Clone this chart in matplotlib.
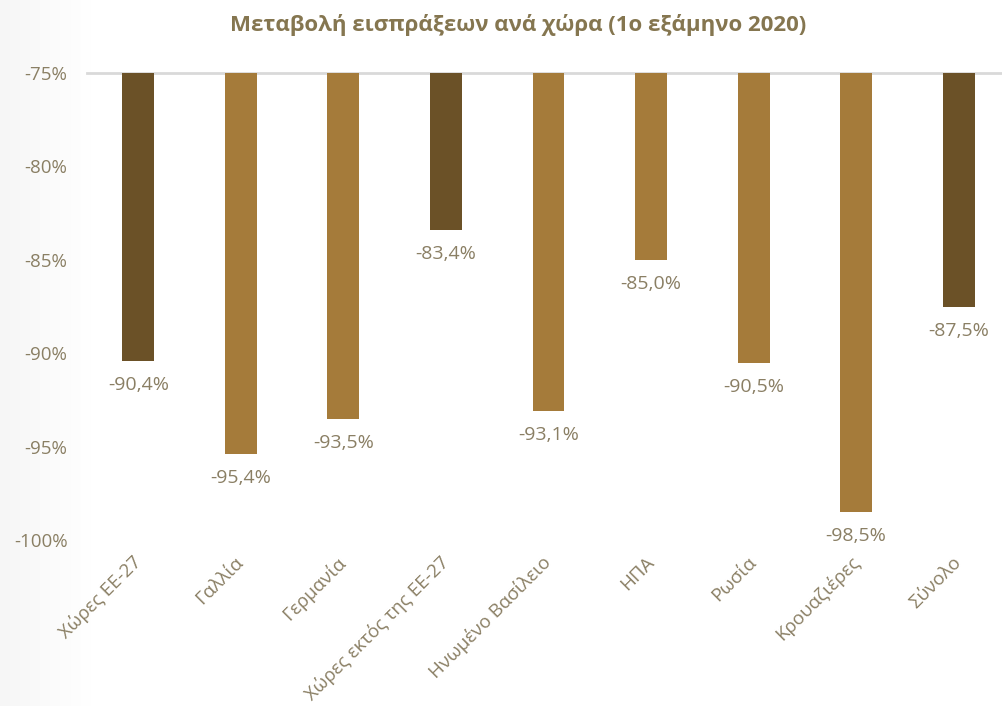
import matplotlib
matplotlib.use("Agg")
import matplotlib.pyplot as plt
import numpy as np
from matplotlib.ticker import FixedLocator

plt.rcParams['font.family'] = ['Open Sans', 'Noto Sans', 'DejaVu Sans']

categories = ["Χώρες ΕΕ-27", "Γαλλία", "Γερμανία", "Χώρες εκτός της ΕΕ-27",
              "Ηνωμένο Βασίλειο", "ΗΠΑ", "Ρωσία", "Κρουαζιέρες", "Σύνολο"]
values = [-90.4, -95.4, -93.5, -83.4, -93.1, -85.0, -90.5, -98.5, -87.5]
dark_idx = [0, 3, 8]
yticks = [-75, -80, -85, -90, -95, -100]
title = "Μεταβολή εισπράξεων ανά χώρα (1ο εξάμηνο 2020)"

DARK = "#6B5127"
LIGHT = "#A57B3A"
TXT = "#8A7F64"
TITLE_C = "#857650"

W, H = 1002, 706
fig = plt.figure(figsize=(W/100, H/100), dpi=100)
fig.patch.set_facecolor("white")

# subtle background gradient on left
bg = fig.add_axes([0, 0, 0.09, 1], zorder=-10)
grad = np.linspace(0.965, 1.0, 256).reshape(1, -1)
bg.imshow(np.dstack([grad, grad, grad]), aspect='auto', extent=[0, 1, 0, 1])
bg.axis('off')

left = 87 / W
right = 1010 / W
ax = fig.add_axes([left, 166 / H, right - left, 467 / H])
ax.patch.set_alpha(0)

x = np.arange(len(categories))
colors = [DARK if i in dark_idx else LIGHT for i in range(len(categories))]
base = -75
ax.bar(x, [v - base for v in values], bottom=base, width=0.31, color=colors, zorder=3)

ax.set_ylim(-100, -75)
ax.set_xlim(-0.5, len(categories) - 0.5)
ax.yaxis.set_major_locator(FixedLocator(yticks))
ax.set_yticklabels([f"{t}%" for t in yticks], color=TXT, fontsize=13.5)
ax.tick_params(axis='y', length=0, pad=14)
ax.tick_params(axis='x', length=0, pad=14)
ax.set_xticks(x)
ax.set_xticklabels(categories, rotation=45, ha='right', va='center',
                   rotation_mode='anchor', color=TXT, fontsize=13.5)
for s in ax.spines.values():
    s.set_visible(False)
ax.axhline(-75, color="#D9D9D9", lw=2, zorder=2, clip_on=False)

for xi, v in zip(x, values):
    ax.annotate(f"{v:.1f}%".replace('.', ','), (xi, v), xytext=(0, -24),
                textcoords='offset pixels', ha='center', va='center',
                color=TXT, fontsize=14)

fig.text(518 / W, 1 - 25 / H, title, ha='center', va='center', color=TITLE_C,
         fontsize=16, fontweight='bold')

fig.savefig("out.png", dpi=100, facecolor=fig.get_facecolor())
